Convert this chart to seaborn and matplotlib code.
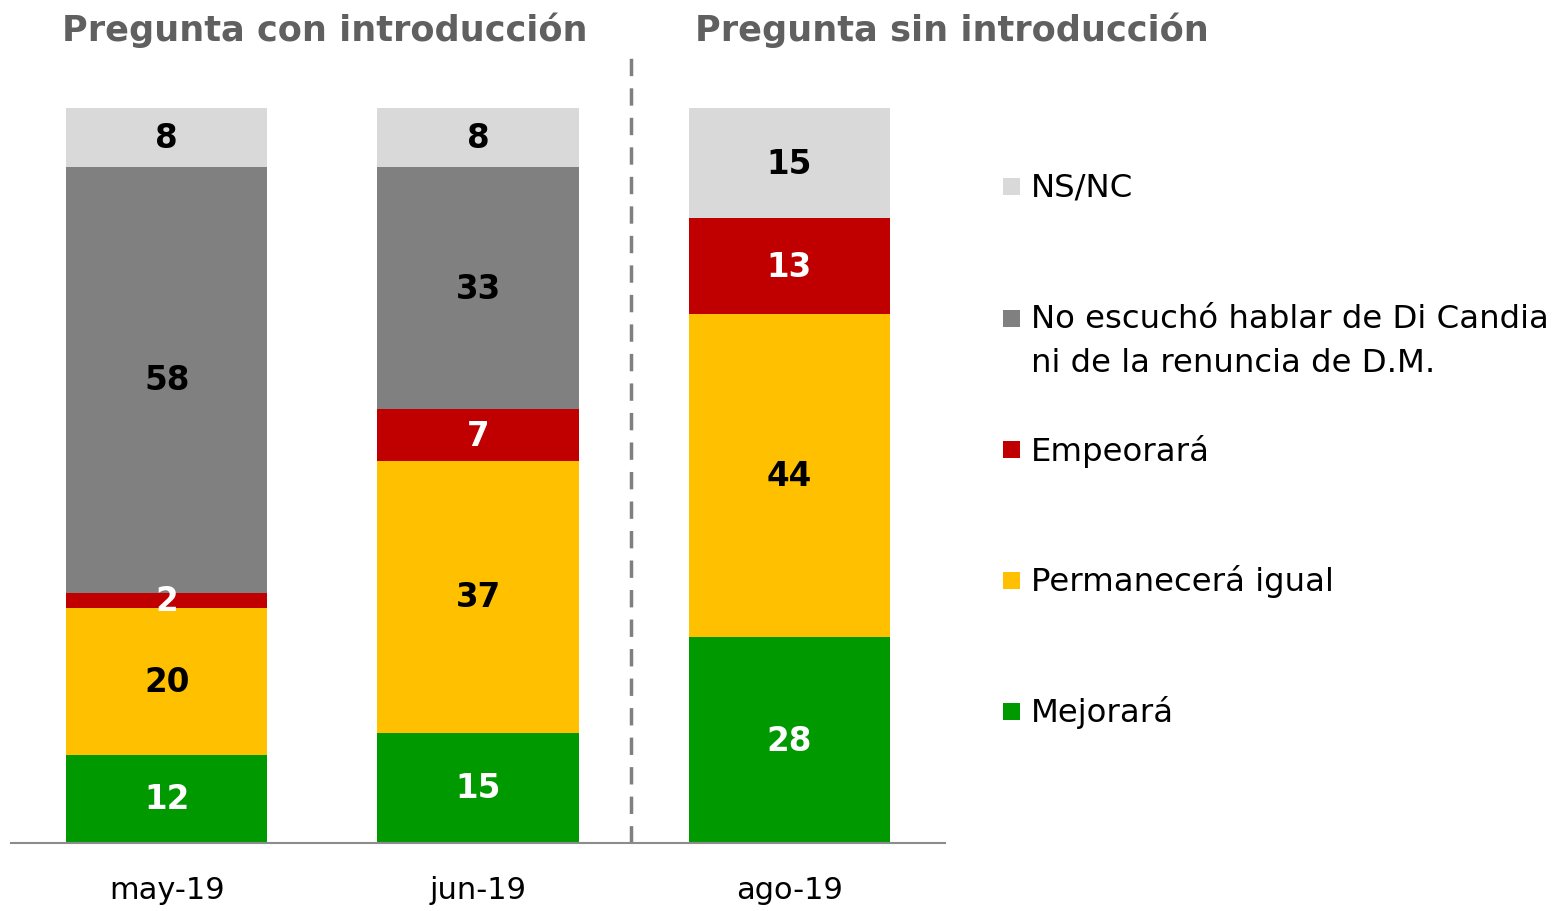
import numpy as np
import matplotlib
matplotlib.use("Agg")
import matplotlib.pyplot as plt
import seaborn as sns
from matplotlib.patches import Rectangle

# --- data ---
months = ['may-19', 'jun-19', 'ago-19']
mejorara = [12, 15, 28]
permanecera = [20, 37, 44]
empeorara = [2, 7, 13]
no_escucho = [58, 33, 0]
ns_nc = [8, 8, 15]

series_names = ['Mejorará', 'Permanecerá igual', 'Empeorará',
                'No escuchó hablar de Di Candia\nni de la renuncia de D.M.', 'NS/NC']
series_values = [mejorara, permanecera, empeorara, no_escucho, ns_nc]
series_colors = ['#009900', '#FFC000', '#C00000', '#808080', '#D9D9D9']
label_colors = ['white', 'black', 'white', 'black', 'black']

titles = ['Pregunta con introducción', 'Pregunta sin introducción']

sns.set_style('white')
plt.rcParams['font.family'] = ['DejaVu Sans']

fig = plt.figure(figsize=(15.64, 9.12), dpi=100)
ax = fig.add_axes([11 / 1564, 1 - 844 / 912, (945 - 11) / 1564, 735 / 912])

bottom = np.zeros(len(months))
for name, vals, col, lcol in zip(series_names, series_values, series_colors, label_colors):
    sns.barplot(x=months, y=vals, bottom=bottom, color=col, saturation=1,
                width=0.646, linewidth=0, ax=ax)
    cont = ax.containers[-1]
    labels = [str(v) if v > 0 else '' for v in vals]
    ax.bar_label(cont, labels=labels, label_type='center', color=lcol,
                 fontsize=23.5, fontweight='bold')
    bottom = bottom + np.array(vals)

ax.set_xlim(-0.5, 2.5)
ax.set_ylim(0, 100)
ax.set_yticks([])
ax.set_ylabel('')
ax.tick_params(axis='x', length=0, labelsize=22, pad=23, labelcolor='black')
for s in ['left', 'top', 'right']:
    ax.spines[s].set_visible(False)
ax.spines['bottom'].set_color('#8c8c8c')
ax.spines['bottom'].set_linewidth(1.5)

# separator between question types
ax.axvline(1.49, ymin=0, ymax=1.077, color='#7f7f7f', linestyle=(0, (5, 3.5)),
           linewidth=2.5, clip_on=False)

# titles
fig.text(325 / 1564, 1 - 30 / 912, titles[0], ha='center', va='center',
         fontsize=25.3, fontweight='bold', color='#606060')
fig.text(952 / 1564, 1 - 30 / 912, titles[1], ha='center', va='center',
         fontsize=25.3, fontweight='bold', color='#606060')

# legend (top to bottom)
legend_y = [188, 320, 451, 582, 713]
for (name, col), y in zip(list(zip(series_names, series_colors))[::-1], legend_y):
    fig.patches.append(Rectangle((1003 / 1564, 1 - (y + 8) / 912), 17 / 1564, 17 / 912,
                                 facecolor=col, edgecolor='none',
                                 transform=fig.transFigure, figure=fig))
    fig.text(1031 / 1564, 1 - y / 912, name.split('\n')[0], ha='left', va='center',
             fontsize=23.3, color='black')
    if '\n' in name:
        fig.text(1031 / 1564, 1 - (y + 43) / 912, name.split('\n')[1], ha='left',
                 va='center', fontsize=23.3, color='black')

fig.savefig('out.png', dpi=100)
